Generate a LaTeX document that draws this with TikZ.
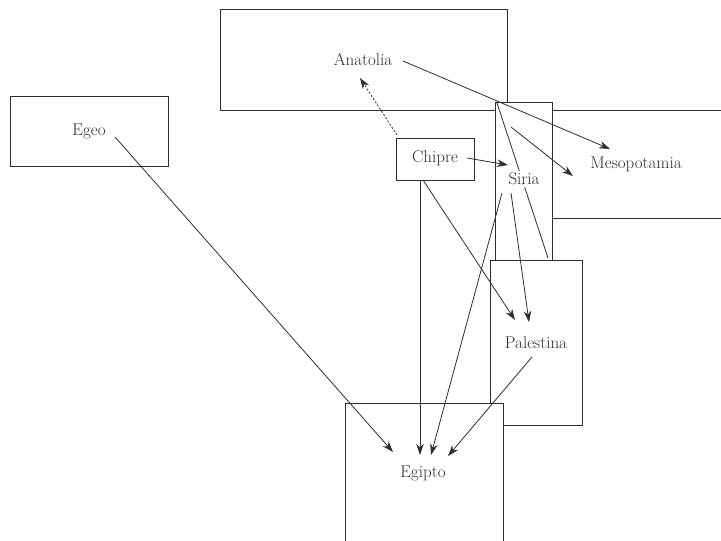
\documentclass[tikz,border=0pt]{standalone}
\usetikzlibrary{arrows.meta}
\definecolor{ink}{gray}{0.18}
\begin{document}
\begin{tikzpicture}[x=1pt,y=-1pt,
  region/.style={draw=ink, fill=white, line width=0.9pt, inner sep=0pt, anchor=north west},
  lbl/.style={font=\fontsize{17}{20}\selectfont, text=ink, inner sep=1pt},
  arr/.style={draw=ink, line width=0.8pt, -{Stealth[length=11pt,width=7.5pt,inset=3.5pt]}},
  plain/.style={draw=ink, line width=0.8pt},
  dotarr/.style={arr, dash pattern=on 2pt off 1.8pt}]
\useasboundingbox (0,0) rectangle (721,541);
\clip (0,0) rectangle (721,541);
% regions
\node[region, minimum width=287pt, minimum height=101pt] (bAna) at (220,9) {};
\node[region, minimum width=200pt, minimum height=108pt] (bMes) at (540,110) {};
\node[region, minimum width=57pt, minimum height=158pt] (bSir) at (495,102) {};
\node[region, minimum width=92pt, minimum height=165pt] (bPal) at (490,260) {};
\node[region, minimum width=158pt, minimum height=150pt] (bEgi) at (345,403) {};
\node[region, minimum width=158pt, minimum height=70pt] (bEge) at (10,96) {};
\node[region, minimum width=78pt, minimum height=42pt] (bChi) at (396,138) {};
% connector ends
\coordinate (a1) at (403,61);  \coordinate (a2) at (610,149);
\coordinate (c1) at (397,135); \coordinate (c2) at (360,78);
\coordinate (c3) at (467,158); \coordinate (s0) at (508,165);
\coordinate (k1) at (497,103); \coordinate (k2) at (548,258);
\coordinate (s1) at (511,127); \coordinate (m1) at (573,176);
\coordinate (s2) at (502,193); \coordinate (e1) at (431,455);
\coordinate (s3) at (511,193); \coordinate (p1) at (529,322);
\coordinate (c4) at (423,180); \coordinate (p2) at (515,320);
\coordinate (c5) at (420,180); \coordinate (e2) at (420,455);
\coordinate (g1) at (115,137); \coordinate (e3) at (393,452);
\coordinate (p3) at (532,357); \coordinate (e4) at (448,456);
% connectors
\draw[arr] (a1) -- (a2);
\draw[dotarr] (c1) -- (c2);
\draw[arr] (c3) -- (s0);
\draw[plain] (k1) -- (k2);
\draw[arr] (s1) -- (m1);
\draw[arr] (s2) -- (e1);
\draw[arr] (s3) -- (p1);
\draw[arr] (c4) -- (p2);
\draw[arr] (c5) -- (e2);
\draw[arr] (g1) -- (e3);
\draw[arr] (p3) -- (e4);
% labels
\node[lbl] (Ana) at (363,60) {Anatolia};
\node[lbl] (Ege) at (89,131) {Egeo};
\node[lbl] (Chi) at (435,158) {Chipre};
\node[lbl, fill=white, inner sep=2pt] (Sir) at (524,179) {Siria};
\node[lbl] (Mes) at (636,164) {Mesopotamia};
\node[lbl] (Pal) at (536,343) {Palestina};
\node[lbl] (Egi) at (423,473) {Egipto};
\end{tikzpicture}
\end{document}
